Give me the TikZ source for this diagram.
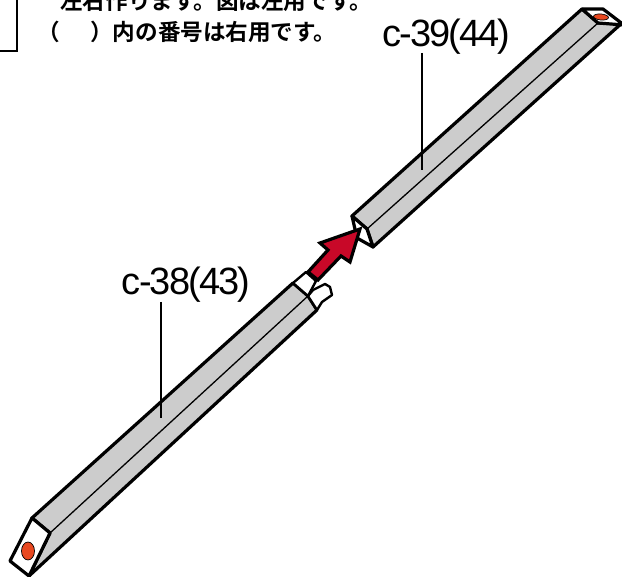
\documentclass[tikz,border=0pt]{standalone}
\usepackage{fontspec}
\usetikzlibrary{shapes.geometric}
\setmainfont{Liberation Sans}
\newfontfamily\labelfont[LetterSpace=-5]{Liberation Sans}
\newfontfamily\cjk[BoldFont={Noto Sans CJK JP Bold}]{Noto Sans CJK JP}
\definecolor{barfill}{RGB}{204,204,204}
\definecolor{arrowred}{RGB}{200,8,40}
\definecolor{holered}{RGB}{232,72,32}
\tikzset{
  bar/.style={draw=black,line width=3.2pt,line join=round,fill=barfill},
  face/.style={draw=black,line width=3.2pt,line join=round,fill=white},
  ridge/.style={draw=black,line width=1.3pt,line cap=round},
  hole/.style={draw=black,line width=.7pt,fill=holered},
  partlabel/.style={font=\labelfont\fontsize{38}{38}\selectfont,inner sep=0pt,anchor=base},
  note/.style={font=\cjk\bfseries\fontsize{22.6}{23}\selectfont,inner sep=0pt,anchor=base west},
  leader/.style={draw=black,line width=1.6pt},
  framebox/.style={draw=black,line width=1.6pt},
  bigarrow/.style={draw=black,line width=3.2pt,line join=miter,fill=arrowred}
}
\begin{document}
\begin{tikzpicture}[x=1pt,y=-1pt]
\useasboundingbox (0,0) rectangle (622,577);
\fill[white] (0,0) rectangle (622,577);
% frame corner
\coordinate (f1) at (17,-3);
\coordinate (f2) at (17,51);
\coordinate (f3) at (-3,51);
\draw[framebox] (f1) -- (f2) -- (f3);
% notes
\node[note] (n1) at (60,9.5) {左右作ります。図は左用です。};
\node[note] (n2a) at (37,41) {（};
\node[note] (n2b) at (90,41) {）内の番号は右用です。};
% upper bar
\coordinate (ua) at (352,216);
\coordinate (ub) at (367,229);
\coordinate (uc) at (373,247);
\coordinate (ud) at (357,238);
\coordinate (ue) at (582,9);
\coordinate (uf) at (603,9);
\coordinate (ug) at (622,23);
\coordinate (uh) at (598,23);
\draw[bar] (ua) -- (ue) -- (uh) -- (ug) -- (uc) -- (ub) -- cycle;
\draw[face] (ue) -- (uf) -- (624,25) -- (uh) -- cycle;
\node[hole,ellipse,minimum width=15pt,minimum height=6pt,inner sep=0pt,rotate=-5] (uhole) at (601,17) {};
\draw[ridge] (ub) -- (uh);
\draw[face] (ua) -- (ub) -- (uc) -- (ud) -- cycle;
% lower bar
\coordinate (la) at (32,518);
\coordinate (lb) at (50,533);
\coordinate (lc) at (29,576);
\coordinate (ld) at (10,561);
\coordinate (le) at (293,283);
\coordinate (lf) at (308,296);
\coordinate (lg) at (317,310);
\draw[bar] (la) -- (le) -- (lf) -- (lg) -- (lc) -- (lb) -- cycle;
\draw[ridge] (lb) -- (lf);
\draw[face] (la) -- (lb) -- (lc) -- (ld) -- cycle;
\node[hole,ellipse,minimum width=13pt,minimum height=18pt,inner sep=0pt] (lhole) at (28,551) {};
% tenon
\coordinate (ta) at (306,272);
\coordinate (tb) at (316,281);
\draw[face,line width=2.4pt] (le) -- (ta) -- (tb) -- (lf) -- cycle;
\draw[face,line width=2.4pt] (lf) -- (313,290) -- (325,284) -- (330,287) -- (332,295) -- (322,302) -- (lg) -- cycle;
% arrow
\draw[bigarrow] (308,272) -- (328,250) -- (320,243) -- (360,229) -- (350,262) -- (341,256) -- (318,280) -- cycle;
% labels
\node[partlabel] (l39) at (446.5,47) {c-39(44)};
\node[partlabel] (l38) at (186,295) {c-38(43)};
\coordinate (t39) at (422,170);
\coordinate (t38) at (161,418);
\draw[leader] (422,53) -- (t39);
\draw[leader] (161,302) -- (t38);
\end{tikzpicture}
\end{document}
